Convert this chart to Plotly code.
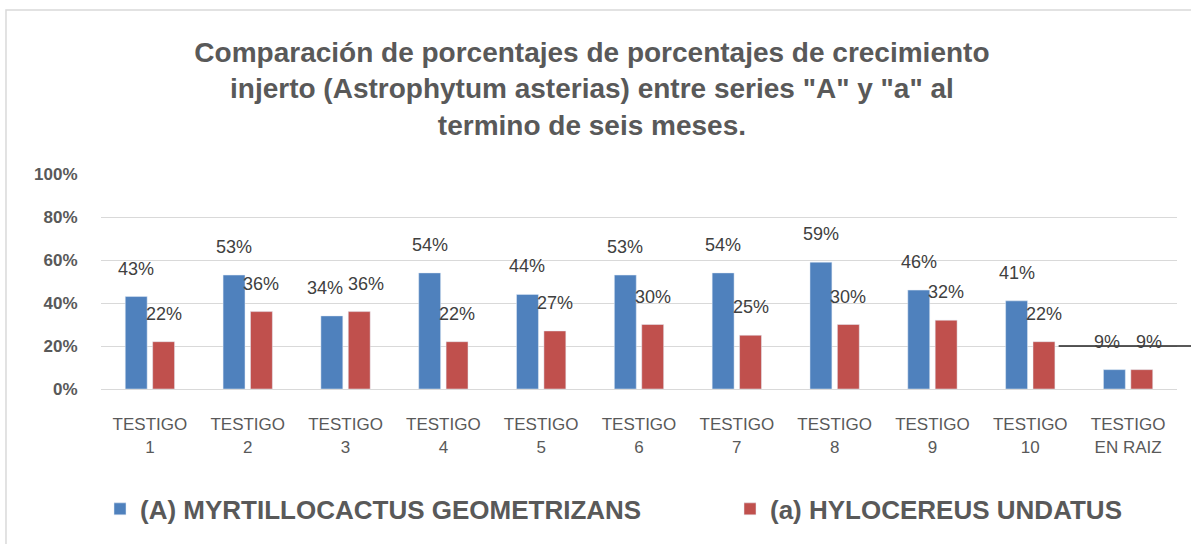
import plotly.graph_objects as go

# datos
categorias = ["TESTIGO<br>1", "TESTIGO<br>2", "TESTIGO<br>3", "TESTIGO<br>4", "TESTIGO<br>5",
              "TESTIGO<br>6", "TESTIGO<br>7", "TESTIGO<br>8", "TESTIGO<br>9", "TESTIGO<br>10",
              "TESTIGO<br>EN RAIZ"]
serie_A = [0.43, 0.53, 0.34, 0.54, 0.44, 0.53, 0.54, 0.59, 0.46, 0.41, 0.09]
serie_a = [0.22, 0.36, 0.36, 0.22, 0.27, 0.30, 0.25, 0.30, 0.32, 0.22, 0.09]
nombre_A = "(A) MYRTILLOCACTUS GEOMETRIZANS"
nombre_a = "(a) HYLOCEREUS UNDATUS"
y_ticks = [0, 0.2, 0.4, 0.6, 0.8, 1.0]
linea_y = 0.2  # linea negra suelta a la derecha

AZUL = "#4F81BD"
ROJO = "#C0504D"
GRIS = "#595959"

fig = go.Figure()
fig.add_trace(go.Bar(x=categorias, y=serie_A, name=nombre_A, marker_color=AZUL, legend="legend"))
fig.add_trace(go.Bar(x=categorias, y=serie_a, name=nombre_a, marker_color=ROJO, legend="legend2"))

# etiquetas de datos (estilo Excel, algo separadas de la barra)
anots = []
for i, cat in enumerate(categorias):
    # si las dos etiquetas quedan casi a la misma altura, se separan un poco
    extra = 7 if abs(serie_A[i] - serie_a[i]) < 0.05 else 0
    for v, dx in [(serie_A[i], -13.75 - extra), (serie_a[i], 13.75 + extra)]:
        anots.append(dict(x=cat, y=v, text=f"{v:.0%}", showarrow=False, xshift=dx,
                          yshift=16, yanchor="bottom",
                          font=dict(family="Liberation Sans", size=18, color="#404040")))

leyenda_font = dict(family="Liberation Sans", size=26, color=GRIS, weight="bold")

fig.update_layout(
    width=1191, height=544,
    barmode="group", bargap=0.44, bargroupgap=0.2,
    plot_bgcolor="white", paper_bgcolor="white",
    margin=dict(l=101, r=14, t=174, b=155, autoexpand=False),
    showlegend=True,
    title=dict(
        text="Comparación de porcentajes de porcentajes de crecimiento<br>"
             "injerto (Astrophytum asterias) entre series \"A\" y \"a\" al<br>"
             "termino de seis meses.",
        x=0.497, xanchor="center", y=1 - 62 / 544, yanchor="top", yref="container",
        font=dict(family="Liberation Sans", size=28, color=GRIS, weight="bold"),
    ),
    xaxis=dict(
        tickfont=dict(family="Liberation Sans", size=17, color=GRIS),
        ticks="outside", ticklen=20, tickcolor="rgba(0,0,0,0)",
        showline=False, showgrid=False, automargin=False,
    ),
    yaxis=dict(
        range=[0, 1.0], tickvals=y_ticks, tickformat=".0%",
        tickfont=dict(family="Liberation Sans", size=17, color=GRIS, weight="bold"),
        ticks="outside", ticklen=19, tickcolor="rgba(0,0,0,0)",
        showgrid=True, gridcolor="#D9D9D9", gridwidth=1,
        zeroline=True, zerolinecolor="#D9D9D9", zerolinewidth=1, showline=False,
        automargin=False,
    ),
    legend=dict(
        orientation="h", x=(100 - 101) / 1076, xanchor="left", y=-0.558, yanchor="middle",
        font=leyenda_font, itemwidth=30,
    ),
    legend2=dict(
        orientation="h", x=(730 - 101) / 1076, xanchor="left", y=-0.558, yanchor="middle",
        font=leyenda_font, itemwidth=30,
    ),
    annotations=anots,
    shapes=[
        dict(type="rect", xref="paper", yref="paper", x0=-0.0883, x1=1.2, y0=-1.0, y1=1.763,
             line=dict(color="#D9D9D9", width=1.5), layer="below"),
        dict(type="line", xref="paper", yref="y", x0=0.890, x1=1.02, y0=linea_y, y1=linea_y,
             line=dict(color="#222222", width=1.5)),
    ],
)

fig.write_html("out.html", config={"displayModeBar": False},
               post_script="document.body.style.margin='0';")
